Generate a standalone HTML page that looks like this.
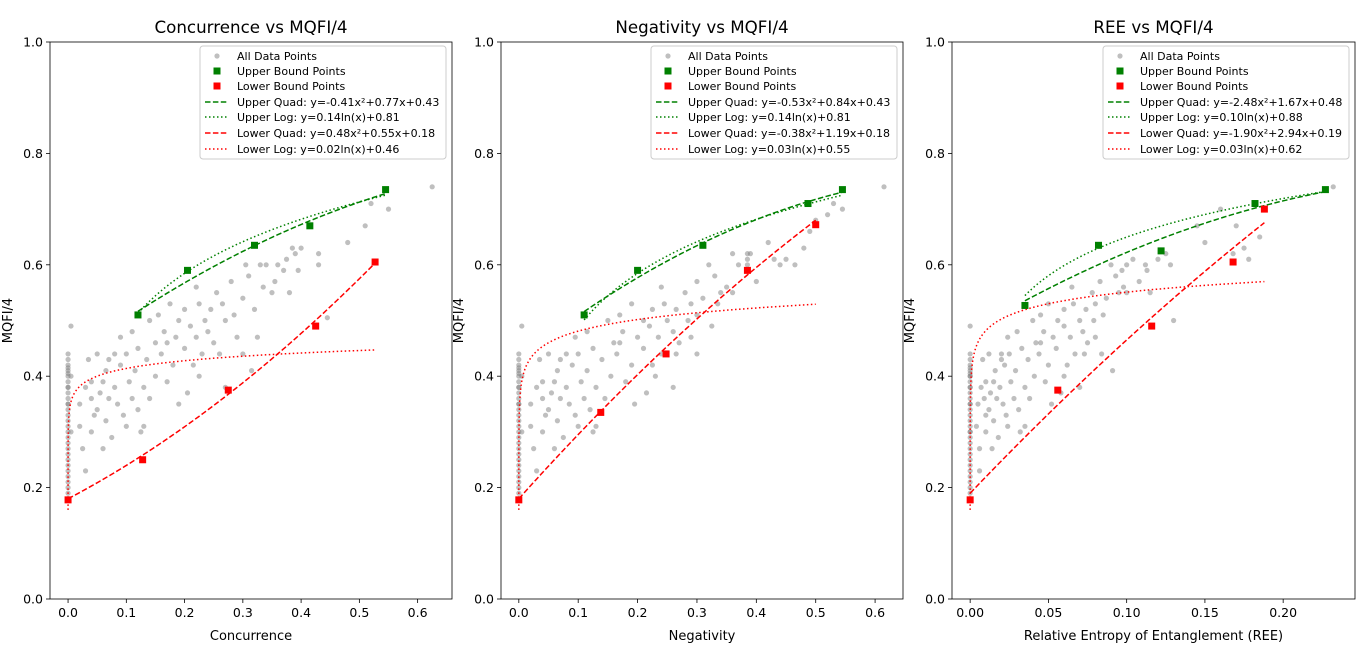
<!DOCTYPE html>
<html><head><meta charset="utf-8"><style>
html,body{margin:0;padding:0;background:#fff;}
svg text{font-family:"DejaVu Sans","Liberation Sans",sans-serif;}
</style></head><body>
<svg id="chart" width="1366" height="663" xmlns="http://www.w3.org/2000/svg"></svg>
<script>
// ---- data ----
const zeroY = [0.19,0.21,0.23,0.25,0.27,0.29,0.30,0.31,0.32,0.33,0.34,0.35,0.36,0.37,0.38,0.39,0.40,0.41,0.42,0.43,0.44,0.26,0.28,0.22,0.20,0.35,0.38,0.18,0.24,0.405,0.415];
const p1X = [0.005,0.005,0.005,0.02,0.02,0.025,0.03,0.03,0.035,0.04,0.04,0.045,0.05,0.05,0.055,0.06,0.06,0.065,0.065,0.07,0.075,0.08,0.08,0.085,0.09,0.09,0.095,0.1,0.1,0.105,0.11,0.11,0.115,0.12,0.12,0.125,0.13,0.135,0.14,0.14,0.15,0.15,0.155,0.16,0.165,0.17,0.175,0.18,0.185,0.19,0.19,0.2,0.2,0.205,0.21,0.215,0.22,0.22,0.225,0.23,0.235,0.24,0.245,0.25,0.255,0.26,0.265,0.27,0.28,0.285,0.29,0.3,0.3,0.305,0.31,0.315,0.32,0.325,0.33,0.335,0.34,0.35,0.355,0.36,0.37,0.375,0.38,0.385,0.39,0.395,0.4,0.43,0.43,0.445,0.48,0.51,0.52,0.55,0.625,0.04,0.07,0.13,0.17,0.225,0.27];
const p1Y = [0.49,0.40,0.30,0.31,0.35,0.27,0.38,0.23,0.43,0.36,0.39,0.33,0.44,0.34,0.37,0.39,0.27,0.41,0.32,0.36,0.29,0.44,0.38,0.35,0.42,0.47,0.33,0.44,0.31,0.39,0.36,0.48,0.41,0.34,0.45,0.30,0.38,0.43,0.50,0.36,0.46,0.40,0.51,0.44,0.48,0.39,0.53,0.42,0.47,0.35,0.50,0.45,0.52,0.37,0.49,0.42,0.56,0.47,0.53,0.44,0.50,0.48,0.52,0.46,0.55,0.44,0.53,0.50,0.57,0.51,0.47,0.54,0.44,0.60,0.58,0.41,0.52,0.47,0.60,0.56,0.60,0.55,0.57,0.60,0.59,0.61,0.55,0.63,0.62,0.59,0.63,0.62,0.60,0.505,0.64,0.67,0.71,0.70,0.74,0.30,0.43,0.31,0.46,0.40,0.38];
const p2X = [0.005,0.005,0.005,0.02,0.02,0.025,0.03,0.03,0.035,0.04,0.04,0.045,0.05,0.05,0.055,0.06,0.06,0.065,0.065,0.07,0.075,0.08,0.08,0.085,0.09,0.095,0.095,0.1,0.1,0.105,0.11,0.115,0.115,0.12,0.125,0.125,0.13,0.14,0.15,0.145,0.16,0.155,0.17,0.165,0.175,0.18,0.19,0.19,0.2,0.195,0.21,0.21,0.225,0.215,0.22,0.225,0.24,0.235,0.245,0.24,0.25,0.26,0.265,0.27,0.28,0.265,0.29,0.285,0.3,0.3,0.29,0.31,0.3,0.32,0.33,0.325,0.34,0.335,0.36,0.35,0.385,0.36,0.37,0.385,0.39,0.4,0.385,0.42,0.44,0.43,0.45,0.465,0.48,0.49,0.5,0.52,0.53,0.545,0.615,0.04,0.07,0.13,0.17,0.23,0.26];
const p2Y = [0.49,0.40,0.30,0.31,0.35,0.27,0.38,0.23,0.43,0.36,0.39,0.33,0.44,0.34,0.37,0.39,0.27,0.41,0.32,0.36,0.29,0.44,0.38,0.35,0.42,0.47,0.33,0.44,0.31,0.39,0.36,0.48,0.41,0.34,0.45,0.30,0.38,0.43,0.50,0.36,0.46,0.40,0.51,0.44,0.48,0.39,0.53,0.42,0.47,0.35,0.50,0.45,0.52,0.37,0.49,0.42,0.56,0.47,0.53,0.44,0.50,0.48,0.52,0.46,0.55,0.44,0.53,0.50,0.57,0.51,0.47,0.54,0.44,0.60,0.58,0.49,0.55,0.53,0.62,0.56,0.62,0.55,0.60,0.61,0.62,0.57,0.60,0.64,0.60,0.61,0.61,0.60,0.63,0.66,0.68,0.69,0.71,0.70,0.74,0.30,0.43,0.31,0.46,0.40,0.38];
const p3X = [0.0,0.0,0.0,0.004,0.005,0.006,0.007,0.006,0.008,0.009,0.01,0.01,0.012,0.012,0.013,0.015,0.014,0.016,0.015,0.017,0.018,0.02,0.019,0.021,0.022,0.024,0.023,0.025,0.024,0.026,0.028,0.03,0.029,0.031,0.033,0.032,0.035,0.037,0.04,0.038,0.042,0.041,0.045,0.044,0.047,0.048,0.05,0.05,0.053,0.052,0.056,0.055,0.06,0.058,0.06,0.062,0.065,0.064,0.066,0.067,0.07,0.072,0.074,0.075,0.078,0.073,0.08,0.079,0.083,0.085,0.08,0.087,0.084,0.09,0.093,0.091,0.097,0.095,0.1,0.098,0.104,0.1,0.108,0.112,0.113,0.12,0.115,0.125,0.13,0.128,0.145,0.15,0.17,0.178,0.16,0.168,0.175,0.185,0.232,0.01,0.02,0.035,0.045,0.06,0.07];
const p3Y = [0.49,0.40,0.30,0.31,0.35,0.27,0.38,0.23,0.43,0.36,0.39,0.33,0.44,0.34,0.37,0.39,0.27,0.41,0.32,0.36,0.29,0.44,0.38,0.35,0.42,0.47,0.33,0.44,0.31,0.39,0.36,0.48,0.41,0.34,0.45,0.30,0.38,0.43,0.50,0.36,0.46,0.40,0.51,0.44,0.48,0.39,0.53,0.42,0.47,0.35,0.50,0.45,0.52,0.37,0.49,0.42,0.56,0.47,0.53,0.44,0.50,0.48,0.52,0.46,0.55,0.44,0.53,0.50,0.57,0.51,0.47,0.54,0.44,0.60,0.58,0.41,0.59,0.55,0.60,0.56,0.61,0.55,0.57,0.60,0.59,0.61,0.55,0.62,0.50,0.60,0.67,0.64,0.67,0.61,0.70,0.62,0.63,0.65,0.74,0.30,0.43,0.31,0.46,0.40,0.38];

const upX1=[0.12,0.205,0.32,0.415,0.545], upY1=[0.51,0.59,0.635,0.67,0.735];
const loX1=[0.0,0.128,0.275,0.425,0.527], loY1=[0.178,0.25,0.375,0.49,0.605];
const upX2=[0.11,0.2,0.31,0.487,0.545], upY2=[0.51,0.59,0.635,0.71,0.735];
const loX2=[0.0,0.138,0.248,0.385,0.5], loY2=[0.178,0.335,0.44,0.59,0.672];
const upX3=[0.035,0.082,0.122,0.182,0.227], upY3=[0.527,0.635,0.625,0.71,0.735];
const loX3=[0.0,0.056,0.116,0.168,0.188], loY3=[0.178,0.375,0.49,0.605,0.7];

const coefUQ1=[-0.41,0.77,0.43], coefUL1=[0.14,0.81], coefLQ1=[0.48,0.55,0.18], coefLL1=[0.02,0.46];
const coefUQ2=[-0.53,0.84,0.43], coefUL2=[0.14,0.81], coefLQ2=[-0.38,1.19,0.18], coefLL2=[0.03,0.55];
const coefUQ3=[-2.48,1.67,0.48], coefUL3=[0.10,0.88], coefLQ3=[-1.90,2.94,0.19], coefLL3=[0.03,0.62];

const xTicks1=[0.0,0.1,0.2,0.3,0.4,0.5,0.6], xTickLabels1=["0.0","0.1","0.2","0.3","0.4","0.5","0.6"];
const xTicks3=[0.0,0.05,0.10,0.15,0.20], xTickLabels3=["0.00","0.05","0.10","0.15","0.20"];
const yTicks=[0,0.2,0.4,0.6,0.8,1.0], yTickLabels=["0.0","0.2","0.4","0.6","0.8","1.0"];

const panels=[
 {key:"concurrence",title:"Concurrence vs MQFI/4",xlabel:"Concurrence",L:50,R:452,xmin:-0.031,xmax:0.659,xs:p1X,ys:p1Y,ux:upX1,uy:upY1,lx:loX1,ly:loY1,uq:coefUQ1,ul:coefUL1,lq:coefLQ1,ll:coefLL1,xt:xTicks1,xtl:xTickLabels1},
 {key:"negativity",title:"Negativity vs MQFI/4",xlabel:"Negativity",L:501,R:903,xmin:-0.030,xmax:0.647,xs:p2X,ys:p2Y,ux:upX2,uy:upY2,lx:loX2,ly:loY2,uq:coefUQ2,ul:coefUL2,lq:coefLQ2,ll:coefLL2,xt:xTicks1,xtl:xTickLabels1},
 {key:"ree",title:"REE vs MQFI/4",xlabel:"Relative Entropy of Entanglement (REE)",L:952,R:1355,xmin:-0.0116,xmax:0.2459,xs:p3X,ys:p3Y,ux:upX3,uy:upY3,lx:loX3,ly:loY3,uq:coefUQ3,ul:coefUL3,lq:coefLQ3,ll:coefLL3,xt:xTicks3,xtl:xTickLabels3}
];
const T=42,B=599;
const NS="http://www.w3.org/2000/svg";
const svg=document.getElementById('chart');
function mk(tag,attrs,parent){const e=document.createElementNS(NS,tag);for(const k in attrs)e.setAttribute(k,attrs[k]);(parent||svg).appendChild(e);return e;}
function fmt(v){return v.toFixed(2);}

panels.forEach(p=>{
  const g=mk('g',{});
  
  
  const X=v=>p.L+(v-p.xmin)/(p.xmax-p.xmin)*(p.R-p.L);
  const Y=v=>B-(v-0)/(1-0)*(B-T);
  const t=mk('text',{x:(p.L+p.R)/2,y:33,'text-anchor':'middle','font-size':'16.7'},g);t.textContent=p.title;
  
  
  p.xt.forEach((v,i)=>{
    mk('line',{x1:X(v),x2:X(v),y1:B,y2:B+4,stroke:'#000','stroke-width':0.8},g);
    const tx=mk('text',{x:X(v),y:B+18,'text-anchor':'middle','font-size':'12.5'},g);tx.textContent=p.xtl[i];
    
    
  });
  yTicks.forEach((v,i)=>{
    mk('line',{x1:p.L-4,x2:p.L,y1:Y(v),y2:Y(v),stroke:'#000','stroke-width':0.8},g);
    const ty=mk('text',{x:p.L-7,y:Y(v)+4.5,'text-anchor':'end','font-size':'12.5'},g);ty.textContent=yTickLabels[i];
    
    
  });
  const xl=mk('text',{x:(p.L+p.R)/2,y:640,'text-anchor':'middle','font-size':'13'},g);xl.textContent=p.xlabel;
  
  
  const yl=mk('text',{x:0,y:0,'text-anchor':'middle','font-size':'13',transform:`translate(${p.L-38},${(T+B)/2}) rotate(-90)`},g);yl.textContent='MQFI/4';
  
  
  const sc=mk('g',{},g);
  
  
  zeroY.forEach(y=>{const c=mk('circle',{cx:X(0),cy:Y(y),r:2.6,fill:'#808080','fill-opacity':0.5},sc);
    
    });
  p.xs.forEach((x,i)=>{const c=mk('circle',{cx:X(x),cy:Y(p.ys[i]),r:2.6,fill:'#808080','fill-opacity':0.5},sc);
    
    });
  function curve(fn,x0,x1,log,color,dash,name){
    let d='';const n=120;
    for(let i=0;i<=n;i++){let x=log?Math.exp(Math.log(x0)+(Math.log(x1)-Math.log(x0))*i/n):x0+(x1-x0)*i/n;
      d+=(i?'L':'M')+X(x).toFixed(2)+','+Y(fn(x)).toFixed(2);}
    const e=mk('path',{d:d,fill:'none',stroke:color,'stroke-width':1.5,'stroke-dasharray':dash},g);
    
    
  }
  const uxMin=Math.min(...p.ux),uxMax=Math.max(...p.ux),lxMax=Math.max(...p.lx);
  curve(x=>p.uq[0]*x*x+p.uq[1]*x+p.uq[2],uxMin,uxMax,false,'green','5.5,2.4','upper-quad-fit');
  curve(x=>p.ul[0]*Math.log(x)+p.ul[1],uxMin,uxMax,false,'green','1.5,2.5','upper-log-fit');
  curve(x=>p.lq[0]*x*x+p.lq[1]*x+p.lq[2],0,lxMax,false,'red','5.5,2.4','lower-quad-fit');
  const llStart=Math.exp((0.16-p.ll[1])/p.ll[0]);
  curve(x=>p.ll[0]*Math.log(x)+p.ll[1],llStart,lxMax,true,'red','1.5,2.5','lower-log-fit');
  p.ux.forEach((x,i)=>{const r=mk('rect',{x:X(x)-3.5,y:Y(p.uy[i])-3.5,width:7,height:7,fill:'green'},g);
    
    });
  p.lx.forEach((x,i)=>{const r=mk('rect',{x:X(x)-3.5,y:Y(p.ly[i])-3.5,width:7,height:7,fill:'red'},g);
    
    });
  const fr=mk('rect',{x:p.L,y:T,width:p.R-p.L,height:B-T,fill:'none',stroke:'#000','stroke-width':0.8},g);
  
  
  const lg=mk('g',{},g);
  
  
  const lw=246, lx=p.R-6-lw;
  mk('rect',{x:lx,y:46,width:lw,height:113,rx:3,fill:'#fff','fill-opacity':0.8,stroke:'#ccc','stroke-width':1},lg);
  const labels=["All Data Points","Upper Bound Points","Lower Bound Points",
    `Upper Quad: y=${fmt(p.uq[0])}x²+${fmt(p.uq[1])}x+${fmt(p.uq[2])}`,
    `Upper Log: y=${fmt(p.ul[0])}ln(x)+${fmt(p.ul[1])}`,
    `Lower Quad: y=${fmt(p.lq[0])}x²+${fmt(p.lq[1])}x+${fmt(p.lq[2])}`,
    `Lower Log: y=${fmt(p.ll[0])}ln(x)+${fmt(p.ll[1])}`];
  const rows=[56,71,86,102,117,133,149];
  labels.forEach((s,i)=>{
    const cy=rows[i], mx=lx+17;
    if(i===0) mk('circle',{cx:mx,cy:cy,r:2.6,fill:'#808080','fill-opacity':0.5},lg);
    else if(i===1) mk('rect',{x:mx-3.5,y:cy-3.5,width:7,height:7,fill:'green'},lg);
    else if(i===2) mk('rect',{x:mx-3.5,y:cy-3.5,width:7,height:7,fill:'red'},lg);
    else { const col=(i<5)?'green':'red', dash=(i%2===1)?'5.5,2.4':'1.5,2.5';
      mk('line',{x1:lx+5,x2:lx+28,y1:cy,y2:cy,stroke:col,'stroke-width':1.5,'stroke-dasharray':dash},lg);}
    const te=mk('text',{x:lx+37,y:cy+4,'font-size':'11'},lg);te.textContent=s;
    
    
  });
});
</script>
</body></html>
